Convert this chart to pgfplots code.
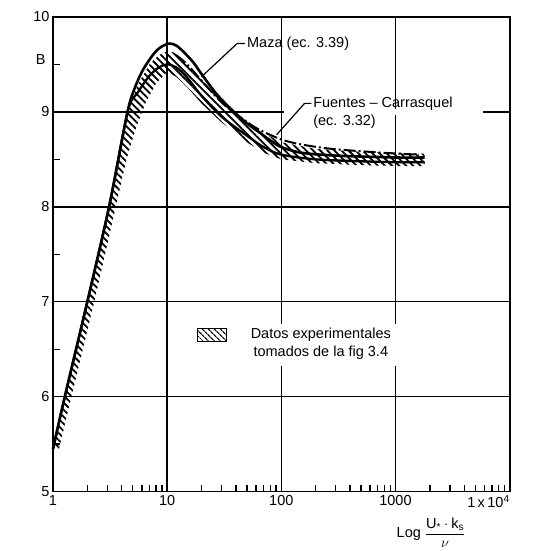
\documentclass[border=0pt]{standalone}
\usepackage{fontspec}
\setmainfont{Liberation Sans}
\usepackage{amsmath}
\usepackage{pgfplots}
\pgfplotsset{compat=1.18}
\usetikzlibrary{patterns.meta}

\newcommand{\lblfont}{\fontsize{14.5}{18}\selectfont}

\begin{document}
\begin{tikzpicture}
\begin{axis}[
  name=ax,
  scale only axis,
  width=457pt, height=475pt,
  xmode=log,
  xmin=1, xmax=10000, ymin=5, ymax=10,
  xtick={1,10,100,1000,10000},
  xticklabels={1,10,100,1000,\makebox[0pt][r]{1\,x\,10\textsuperscript{4}}},
  minor xtick={2,3,4,5,6,7,8,9,20,30,40,50,60,70,80,90,200,300,400,500,600,700,800,900,2000,3000,4000,5000,6000,7000,8000,9000},
  ytick={5,6,7,8,9,10},
  minor ytick={5.5,6.5,7.5,8.5,9.5},
  xtick pos=bottom, ytick pos=left,
  tick align=inside,
  major tick length=0pt,
  minor tick length=7pt,
  grid=major,
  major grid style={black, line width=1.4pt},
  axis line style={line width=1.7pt},
  every tick/.style={black, line width=1.4pt},
  tick label style={font=\lblfont},
  /pgf/number format/assume math mode=true,
  clip=false,
]

% datos experimentales (banda rayada)
\addplot[draw=none, pattern={Lines[angle=-45,distance=5pt,line width=1.8pt]}] coordinates {
  (1,5.45) (1.27,6) (2,7) (3.1,8) (4.5,9) (5.5,9.28) (7,9.5) (8.5,9.6) (10,9.64)
  (12,9.62) (15,9.52) (20,9.37) (30,9.15) (50,8.9) (70,8.78) (100,8.68) (200,8.61)
  (500,8.58) (1000,8.57) (1800,8.56)
  (1800,8.43) (1000,8.43) (500,8.44) (200,8.46) (100,8.5) (70,8.57) (50,8.68)
  (30,8.89) (20,9.09) (15,9.26) (12,9.37) (10,9.42) (8,9.3) (6.5,9.1) (5.4,8.85)
  (4.4,8.5) (3.55,8) (2.3,7) (1.45,6) (1.13,5.45)
} -- cycle;

\addplot[black, line width=2.3pt, smooth, tension=0.5] coordinates {
  (1,5.45) (1.27,6) (2,7) (3.1,8) (4.5,9) (5.5,9.2) (7,9.38) (8.5,9.47) (10,9.5)
  (12,9.47) (15,9.36) (20,9.17) (30,8.95) (50,8.75) (70,8.63) (100,8.55) (200,8.5)
  (500,8.48) (1000,8.47) (1800,8.47)
};

% Maza (ec. 3.39)
\addplot[black, line width=2.6pt, smooth, tension=0.5] coordinates {
  (1,5.45) (1.27,6) (2,7) (3.1,8) (4.5,9) (5.2,9.25) (6,9.42) (7,9.55) (8,9.64)
  (9,9.69) (10.5,9.72) (12,9.7) (14,9.63) (17,9.52) (20,9.4) (27,9.19) (37,9.02)
  (50,8.88) (65,8.78) (80,8.7) (100,8.63) (150,8.57) (300,8.54) (1000,8.52) (1800,8.52)
};

% Fuentes - Carrasquel (ec. 3.32)
\addplot[black, line width=2pt, smooth, tension=0.5, dash pattern=on 12pt off 3pt on 2pt off 3pt] coordinates {
  (12,9.6) (15,9.5) (20,9.33) (30,9.1) (40,8.98) (55,8.86) (70,8.79) (100,8.71)
  (145,8.66) (280,8.61) (775,8.57) (1600,8.55)
};

% textos
\fill[white] (axis cs:105,8.965) rectangle (axis cs:5800,9.035);
\node[anchor=west, font=\lblfont, inner sep=1pt] at (axis cs:49,9.72) {Maza (ec. 3.39)};
\draw[line width=1.2pt] (axis cs:48,9.72) -- (axis cs:41,9.72) -- (axis cs:20,9.37);
\node[anchor=west, align=left, font=\lblfont, inner sep=1pt] at (axis cs:186,8.995)
  {Fuentes -- Carrasquel\\(ec. 3.32)};
\draw[line width=1.2pt] (axis cs:183,9.09) -- (axis cs:160,9.09) -- (axis cs:91,8.76);

\fill[white] (axis cs:39,6.32) rectangle (axis cs:1400,6.77);
\draw[line width=1.2pt, pattern={Lines[angle=-45,distance=4pt,line width=1.3pt]}]
  (axis cs:18.6,6.58) rectangle (axis cs:33.3,6.72);
\node[align=center, font=\lblfont, inner sep=1pt] at (axis cs:222,6.56)
  {Datos experimentales\\tomados de la fig 3.4};

\node[anchor=east, font=\lblfont] at (rel axis cs:0,0.91) [xshift=-4pt] {B};
\node[anchor=west, font=\lblfont] at (rel axis cs:0.745,0) [yshift=-41pt]
  {Log $\displaystyle\frac{\text{U}_{\text{*}}\cdot\text{k}_{\text{s}}}{\nu}$};
\end{axis}
\path ([shift={(-53pt,-59pt)}]ax.south west) rectangle ([shift={(23pt,17pt)}]ax.north east);
\end{tikzpicture}
\end{document}
